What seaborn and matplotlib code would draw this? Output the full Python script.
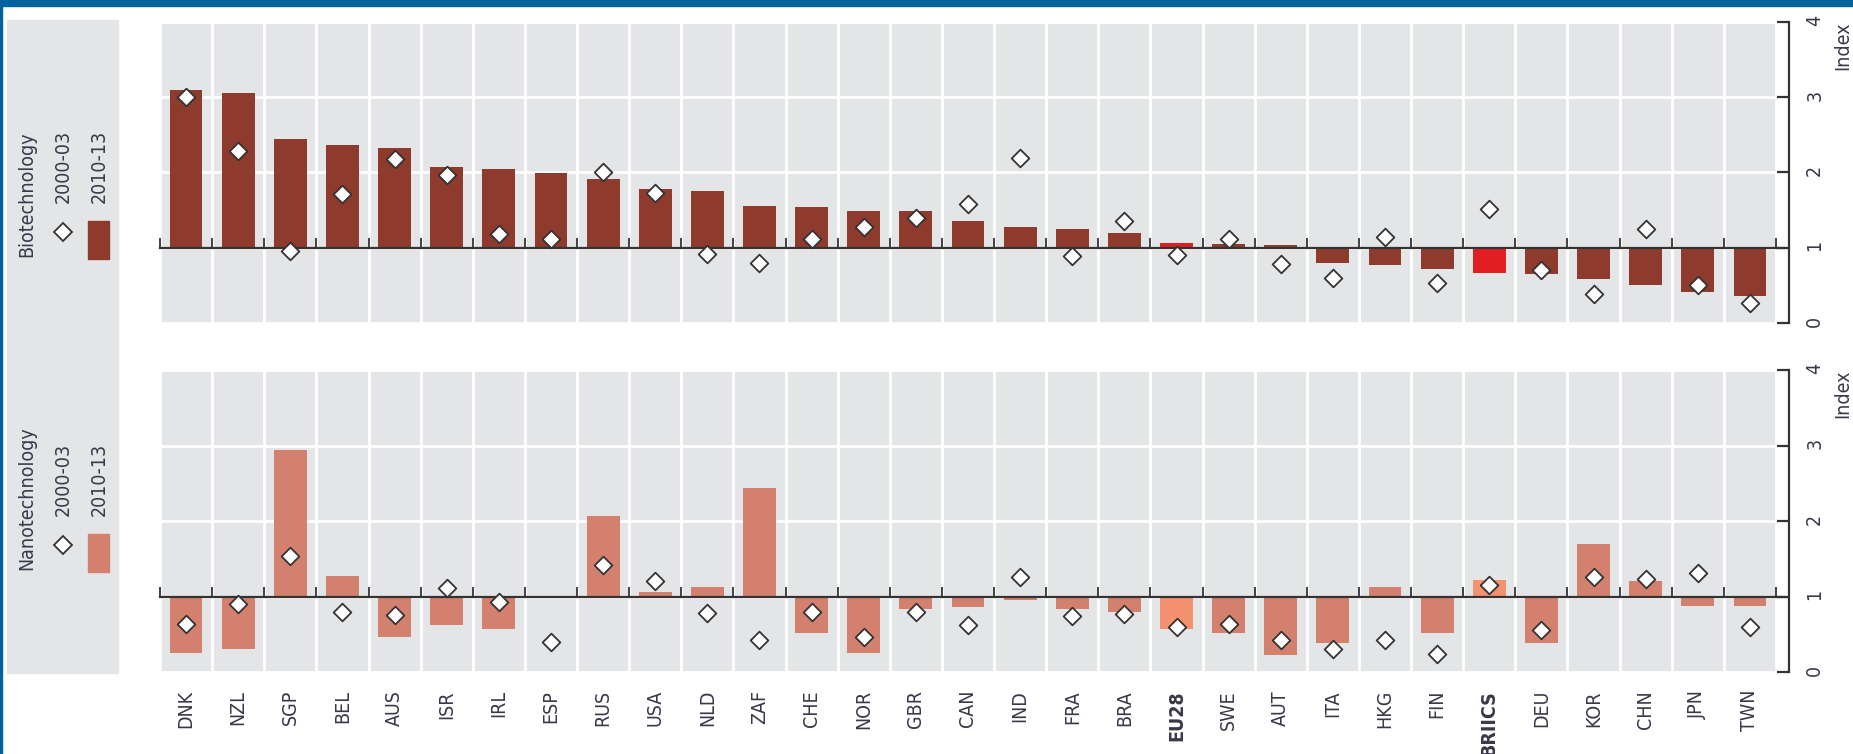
import numpy as np
import pandas as pd
import seaborn as sns
import matplotlib
matplotlib.use("Agg")
import matplotlib.pyplot as plt  # noqa
from matplotlib.patches import Rectangle
from matplotlib.lines import Line2D
from matplotlib import font_manager

countries = ["DNK", "NZL", "SGP", "BEL", "AUS", "ISR", "IRL", "ESP", "RUS", "USA",
             "NLD", "ZAF", "CHE", "NOR", "GBR", "CAN", "IND", "FRA", "BRA", "EU28",
             "SWE", "AUT", "ITA", "HKG", "FIN", "BRIICS", "DEU", "KOR", "CHN", "JPN", "TWN"]
highlight = ["EU28", "BRIICS"]

bio_2010_13 = [3.10, 3.05, 2.44, 2.36, 2.33, 2.07, 2.04, 1.99, 1.91, 1.78,
               1.75, 1.56, 1.54, 1.49, 1.49, 1.35, 1.27, 1.25, 1.20, 1.06,
               1.05, 1.03, 0.80, 0.77, 0.72, 0.67, 0.65, 0.59, 0.51, 0.41, 0.36]
bio_2000_03 = [3.00, 2.29, 0.96, 1.72, 2.18, 1.97, 1.18, 1.11, 2.01, 1.73,
               0.92, 0.80, 1.11, 1.27, 1.39, 1.58, 2.19, 0.89, 1.35, 0.90,
               1.12, 0.79, 0.60, 1.14, 0.53, 1.51, 0.71, 0.39, 1.25, 0.50, 0.27]

nano_2010_13 = [0.25, 0.30, 2.94, 1.27, 0.46, 0.62, 0.57, np.nan, 2.07, 1.06,
                1.12, 2.44, 0.51, 0.25, 0.83, 0.86, 0.96, 0.83, 0.80, 0.57,
                0.51, 0.22, 0.38, 1.12, 0.51, 1.22, 0.38, 1.70, 1.20, 0.88, 0.88]
nano_2000_03 = [0.64, 0.90, 1.54, 0.79, 0.75, 1.11, 0.93, 0.40, 1.42, 1.21,
                0.78, 0.43, 0.79, 0.46, 0.79, 0.62, 1.26, 0.74, 0.77, 0.60,
                0.64, 0.43, 0.31, 0.43, 0.24, 1.15, 0.56, 1.26, 1.23, 1.31, 0.60]

yticks = [0, 1, 2, 3, 4]

BIO = "#8e3a2d"
BIO_HI = "#e11f22"
NANO = "#d4806e"
NANO_HI = "#f4916f"
PANEL = "#e4e5e7"
TXT = "#38384a"

# a narrow face if one is around, otherwise condensed DejaVu
names = {f.name for f in font_manager.fontManager.ttflist}
narrow = [n for n in ["Liberation Sans Narrow", "Arial Narrow"] if n in names]
FONT = narrow + ["DejaVu Sans"]
FS = 15 if narrow else 14

W, H = 1853, 754

sns.set_style("white")
plt.rcParams["font.family"] = FONT
plt.rcParams["font.stretch"] = "condensed"
plt.rcParams["font.size"] = FS


def fx(x):
    return x / W


def fy(y):
    return 1 - y / H


def draw_panel(ax, later, earlier, color, hi_color, show_labels):
    df = pd.DataFrame({"country": countries,
                       "height": np.array(later) - 1,
                       "earlier": earlier})
    pal = {c: (hi_color if c in highlight else color) for c in countries}
    ax.set_facecolor(PANEL)
    sns.barplot(data=df, x="country", y="height", hue="country", order=countries,
                palette=pal, legend=False, width=0.63, errorbar=None,
                bottom=1, saturation=1, linewidth=0, ax=ax, zorder=2)
    sns.stripplot(data=df, x="country", y="earlier", order=countries, jitter=False,
                  marker="D", color="white", edgecolor="#333333", linewidth=1.3,
                  size=9, ax=ax, zorder=5)
    n = len(countries)
    ax.set_xlim(-0.5, n - 0.5)
    ax.set_ylim(0, 4)
    ax.set_xlabel("")
    ax.set_ylabel("")
    ax.set_axisbelow(True)

    # white grid
    ax.set_xticks(np.arange(-0.5, n, 1), minor=True)
    ax.grid(axis="x", which="minor", color="white", lw=2)
    ax.grid(axis="x", which="major", visible=False)
    ax.set_yticks(yticks)
    ax.grid(axis="y", which="major", color="white", lw=2)

    # baseline at 1 with upward ticks at the category borders
    for s in ["top", "left"]:
        ax.spines[s].set_visible(False)
    ax.spines["bottom"].set_position(("data", 1))
    ax.spines["bottom"].set_color("#333333")
    ax.spines["bottom"].set_linewidth(1.6)
    ax.spines["bottom"].set_zorder(4)
    ax.axhline(1, xmin=1, xmax=1.006, color="#333333", lw=1.6, clip_on=False)
    ax.tick_params(axis="x", which="minor", direction="in", length=7, width=1.3,
                   color="#333333", bottom=True)
    ax.tick_params(axis="x", which="major", length=0, labelbottom=False)

    # right value axis
    ax.yaxis.tick_right()
    ax.spines["right"].set_position(("outward", 9))
    ax.spines["right"].set_color("#333333")
    ax.spines["right"].set_linewidth(1.6)
    ax.tick_params(axis="y", which="major", direction="in", length=9, width=1.6,
                   color="#333333", labelrotation=90, pad=12, labelsize=FS,
                   labelcolor=TXT)
    ax.text(1.0415, 1.0, "Index", transform=ax.transAxes, rotation=90,
            ha="center", va="top", fontsize=FS, color=TXT)

    if show_labels:
        sec = ax.secondary_xaxis("bottom")
        sec.set_xticks(range(n), labels=countries)
        sec.tick_params(length=0, pad=13, labelrotation=90, labelsize=FS,
                        labelcolor=TXT)
        sec.spines["bottom"].set_visible(False)
        for lab in sec.get_xticklabels():
            if lab.get_text() in highlight:
                lab.set_fontweight("bold")


def draw_legend(fig, title, color, ybase):
    # ybase: pixel y of the bottom of the title text
    fig.text(fx(27), fy(ybase), title, rotation=90, ha="center", va="bottom",
             fontsize=FS, color=TXT)
    fig.add_artist(Line2D([fx(63)], [fy(ybase - 25)], marker="D", markersize=9,
                          markerfacecolor="white", markeredgecolor="#333333",
                          markeredgewidth=1.3, transform=fig.transFigure))
    fig.text(fx(63), fy(ybase - 54), "2000-03", rotation=90, ha="center",
             va="bottom", fontsize=FS, color=TXT)
    fig.patches.append(Rectangle((fx(88), fy(ybase + 2)), fx(21), 38 / H,
                                 transform=fig.transFigure, color=color,
                                 zorder=1))
    fig.text(fx(99), fy(ybase - 54), "2010-13", rotation=90, ha="center",
             va="bottom", fontsize=FS, color=TXT)


fig = plt.figure(figsize=(W / 100, H / 100), dpi=100)

# frame and legend panel
fig.patches.append(Rectangle((0, fy(6)), 1, 6 / H, transform=fig.transFigure,
                             color="#00639b", zorder=0))
fig.patches.append(Rectangle((0, 0), fx(2), 1, transform=fig.transFigure,
                             color="#00639b", zorder=0))
fig.patches.append(Rectangle((fx(7), fy(673)), fx(111), (673 - 20) / H,
                             transform=fig.transFigure, color=PANEL, zorder=0))

ax1 = fig.add_axes([fx(160), fy(323), fx(1616), 301 / H])
ax2 = fig.add_axes([fx(160), fy(672), fx(1616), 302 / H])

draw_panel(ax1, bio_2010_13, bio_2000_03, BIO, BIO_HI, False)
draw_panel(ax2, nano_2010_13, nano_2000_03, NANO, NANO_HI, True)

draw_legend(fig, "Biotechnology", BIO, 257)
draw_legend(fig, "Nanotechnology", NANO, 570)

fig.savefig("out.png", dpi=100)
